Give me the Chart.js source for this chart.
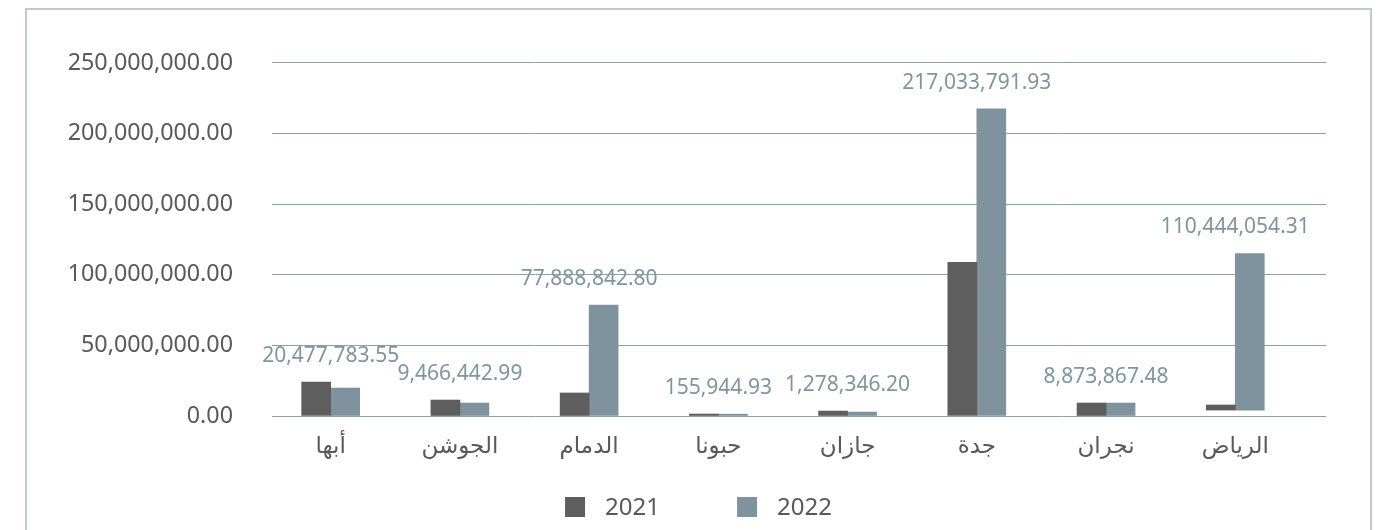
<!DOCTYPE html>
<html lang="ar">

<head>
    <meta charset="UTF-8" />
    <title>2021 - 2022</title>
    <script src="https://cdn.jsdelivr.net/npm/chart.js"></script>
    <style>
        html, body { margin: 0; background: #fff; overflow: hidden; }
        #marco {
            position: absolute;
            left: 25px;
            top: 8px;
            width: 1343px;
            height: 560px;
            border: 2px solid #bccad2;
        }
        #grafica { display: block; }
    </style>
</head>

<body>
    <div id="marco">
        <canvas id="grafica" width="1343" height="520"></canvas>
    </div>

    <script>
        // datos
        const ciudades = ["أبها", "الجوشن", "الدمام", "حبونا", "جازان", "جدة", "نجران", "الرياض"];
        const valores2021 = [24.0e6, 11.3e6, 16.3e6, 1.4e6, 3.5e6, 108.8e6, 9.2e6, [4.2e6, 7.8e6]];
        const valores2022 = [19.8e6, 9.2e6, 78.5e6, 1.3e6, 2.8e6, 217.5e6, 9.2e6, [4.2e6, 115.1e6]];
        const etiquetas2022 = [20477783.55, 9466442.99, 77888842.80, 155944.93, 1278346.20, 217033791.93, 8873867.48, 110444054.31];
        const ticksY = [0, 50e6, 100e6, 150e6, 200e6, 250e6];

        const fuente = '"Noto Sans", "DejaVu Sans", sans-serif';
        const gris = "#595959";

        function formato(v) {
            return v.toLocaleString("en-US", { minimumFractionDigits: 2, maximumFractionDigits: 2 });
        }

        // etiquetas de valor encima de cada grupo
        const etiquetasPlugin = {
            id: "etiquetas",
            afterDatasetsDraw(chart) {
                const ctx = chart.ctx;
                const xScale = chart.scales.x;
                const m0 = chart.getDatasetMeta(0);
                const m1 = chart.getDatasetMeta(1);
                ctx.save();
                ctx.font = "21px " + fuente;
                ctx.fillStyle = "#7f95a0";
                ctx.textAlign = "center";
                ctx.textBaseline = "middle";
                etiquetas2022.forEach((v, i) => {
                    const tope = Math.min(m0.data[i].y, m1.data[i].y);
                    ctx.fillText(formato(v), xScale.getPixelForValue(i), tope - 26);
                });
                ctx.restore();
            }
        };

        // leyenda abajo
        const leyendaPlugin = {
            id: "leyenda",
            afterDraw(chart) {
                const ctx = chart.ctx;
                const paso = 172;
                const caja = 20;
                ctx.save();
                ctx.font = "24px " + fuente;
                const anchoTexto = ctx.measureText(chart.data.datasets[1].label).width;
                let x = chart.width / 2 - (paso + caja * 2 + anchoTexto) / 2;
                const y = 497;
                chart.data.datasets.forEach(ds => {
                    ctx.fillStyle = ds.backgroundColor;
                    ctx.fillRect(x, y - caja / 2, caja, caja);
                    ctx.fillStyle = gris;
                    ctx.textAlign = "left";
                    ctx.textBaseline = "middle";
                    ctx.fillText(ds.label, x + caja * 2, y + 1);
                    x += paso;
                });
                ctx.restore();
            }
        };

        const ctx = document.getElementById("grafica").getContext("2d");
        new Chart(ctx, {
            type: "bar",
            data: {
                datasets: [
                    {
                        label: "2021",
                        data: ciudades.map((c, i) => ({ x: i, y: valores2021[i] })),
                        backgroundColor: "#5e5e5e",
                        barThickness: 29
                    },
                    {
                        label: "2022",
                        data: ciudades.map((c, i) => ({ x: i, y: valores2022[i] })),
                        backgroundColor: "#7e939e",
                        barThickness: 29
                    }
                ]
            },
            options: {
                responsive: false,
                animation: false,
                devicePixelRatio: 1,
                layout: { padding: { left: 20, right: 44, top: 52, bottom: 54 } },
                plugins: {
                    legend: { display: false },
                    tooltip: { enabled: false }
                },
                scales: {
                    x: {
                        type: "linear",
                        min: -0.454,
                        max: 7.702,
                        offset: false,
                        grid: { display: false, drawTicks: false },
                        border: { display: false },
                        afterBuildTicks: scale => {
                            scale.ticks = ciudades.map((c, i) => ({ value: i }));
                        },
                        afterFit: scale => { scale.height = 60; },
                        ticks: {
                            autoSkip: false,
                            maxRotation: 0,
                            minRotation: 0,
                            padding: 17,
                            color: gris,
                            font: { family: fuente, size: 23 },
                            callback: v => ciudades[v]
                        }
                    },
                    y: {
                        min: 0,
                        max: 250e6,
                        afterBuildTicks: scale => {
                            scale.ticks = ticksY.map(v => ({ value: v }));
                        },
                        afterFit: scale => { scale.width = 225; },
                        grid: { color: "#8ca0aa", lineWidth: 1, drawTicks: false },
                        border: { display: false },
                        ticks: {
                            padding: 39,
                            color: gris,
                            font: { family: fuente, size: 23.3 },
                            callback: v => formato(v)
                        }
                    }
                }
            },
            plugins: [etiquetasPlugin, leyendaPlugin]
        });
    </script>
</body>

</html>
